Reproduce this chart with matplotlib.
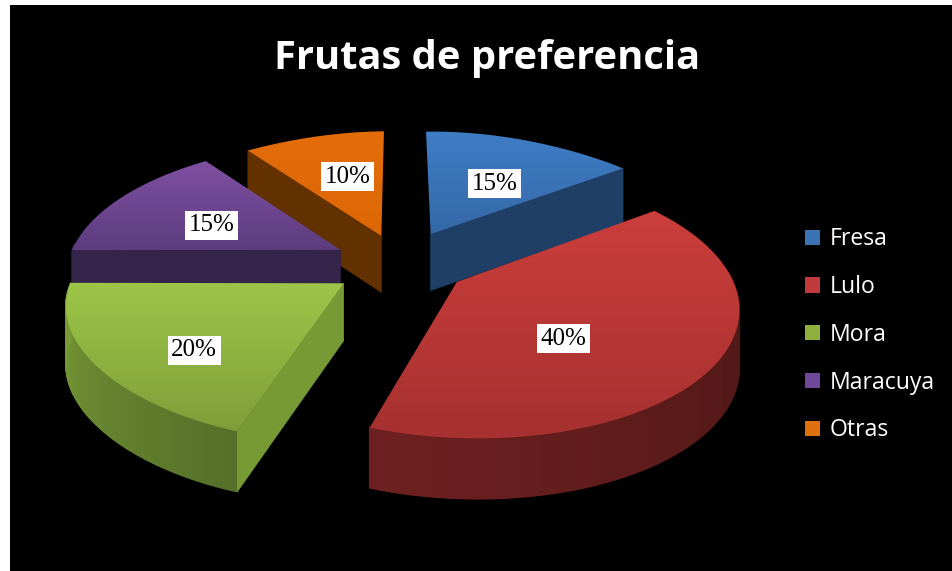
import matplotlib
matplotlib.use('Agg')
import matplotlib.pyplot as plt
import numpy as np
from matplotlib.colors import LinearSegmentedColormap
from matplotlib.patches import Patch, Polygon, Rectangle

title = 'Frutas de preferencia'
labels = ['Fresa', 'Lulo', 'Mora', 'Maracuya', 'Otras']
values = [15, 40, 20, 15, 10]

# per slice styles
explode = [0.27, 0.24, 0.22, 0.22, 0.22]
nudge_x = [7, 10, 5, 5, 10]
nudge_y = [-2, -1, 2, -3, -4]
size_x = [0.98, 0.915, 0.98, 1, 1.05]
size_y = [1.03, 1, 1.03, 1.06, 1.05]
warp = [0.12, 0, 0.06, 0, 0.12]
label_r = [0.56, 0.52, 0.70, 0.55, 0.58]
label_da = [4, 11, -9, -2, 3]
label_dy = [3, 3, -3, 3, 3]
top_light = ['#3f7dc6', '#cb3e3b', '#9dc648', '#7f50a3', '#e46c0a']
top_dark = ['#3569a8', '#a63130', '#7f9e39', '#5d3c7e', '#dc6805']
cut_color = ['#1f3f66', '#6b1f1e', '#779a35', '#35244a', '#633000']
wall_from = ['#1f3f66', '#3f1412', '#55702a', '#35244a', '#633000']
wall_to = ['#1f3f66', '#6e2020', '#7a9c36', '#35244a', '#633000']
legend_color = ['#3a72b4', '#c0393b', '#8fb03f', '#70489a', '#e0700f']

# projection, output pixels
CX, CY = 390, 265
SX, SY = 284, 124
PERSP = 0.16
PERSP_X = 0.03
PERSP_Z = 0.05
DEPTH = 57


def project(x, y, z=0.0):
    w = 1 + PERSP * y - PERSP_X * x
    return CX + SX * x / w, CY - SY * y / w + DEPTH * z / (1 + PERSP_Z * y)


def slice_point(i, ang, r=1.0, z=0.0):
    x0 = explode[i] * np.sin(mids[i])
    y0 = explode[i] * np.cos(mids[i])
    s = np.sin(ang) * (1 - warp[i] * np.cos(ang) ** 2)
    px, py = project(x0 + r * size_x[i] * s, y0 + r * size_y[i] * np.cos(ang), z)
    return px + nudge_x[i], py + nudge_y[i]


edges = np.radians(np.cumsum([0] + values) / sum(values) * 360)
mids = (edges[:-1] + edges[1:]) / 2

fig = plt.figure(figsize=(9.53, 5.71), dpi=100, facecolor='white')
ax = fig.add_axes([0, 0, 1, 1])
ax.add_patch(Rectangle((10, 5), 943, 566, facecolor='black', edgecolor='none', zorder=0))

z = 1
order = np.argsort(-np.cos(mids))
for i in order:
    a0, a1 = edges[i], edges[i + 1]
    angs = np.linspace(a0, a1, 70)
    apex_top = slice_point(i, a0, 0)
    apex_bot = slice_point(i, a0, 0, 1)

    # outer wall, shaded strip by strip, only the part facing the viewer
    ramp = LinearSegmentedColormap.from_list('w', [wall_from[i], wall_to[i]])
    for k in range(len(angs) - 1):
        if np.cos(angs[k]) > 0.05 and np.cos(angs[k + 1]) > 0.05:
            continue
        strip = [slice_point(i, angs[k]), slice_point(i, angs[k + 1]),
                 slice_point(i, angs[k + 1], 1, 1), slice_point(i, angs[k], 1, 1)]
        c = ramp(k / (len(angs) - 2))
        ax.add_patch(Polygon(strip, facecolor=c, edgecolor=c, lw=1.0, zorder=z))
    z += 1

    # cut faces turned to the viewer
    for ang, normal in ((a0, a0 - np.pi / 2), (a1, a1 + np.pi / 2)):
        if np.cos(normal) < -1e-6:
            face = [apex_top, slice_point(i, ang), slice_point(i, ang, 1, 1), apex_bot]
            ax.add_patch(Polygon(face, facecolor=cut_color[i], edgecolor=cut_color[i], lw=0.5, zorder=z))
            z += 1

    # top face with vertical gradient
    pts = np.array([apex_top] + [slice_point(i, a) for a in angs])
    poly = Polygon(pts, facecolor='none', edgecolor='none', zorder=z)
    ax.add_patch(poly)
    grad = LinearSegmentedColormap.from_list('t', [top_light[i], top_dark[i]])
    im = ax.imshow(np.linspace(0, 1, 64).reshape(-1, 1), cmap=grad, aspect='auto', zorder=z, interpolation='bilinear',
                   extent=(pts[:, 0].min() - 1, pts[:, 0].max() + 1, pts[:, 1].max() + 1, pts[:, 1].min() - 1))
    im.set_clip_path(poly)
    z += 1

for i, v in enumerate(values):
    px, py = slice_point(i, mids[i] + np.radians(label_da[i]), label_r[i])
    ax.text(px, py + label_dy[i], f'{v}%', family='Liberation Serif', fontsize=18, color='black', ha='center', va='center',
            bbox=dict(facecolor='white', edgecolor='none', pad=2.5), zorder=z + 1)

ax.text(487, 58, title, family='Open Sans', fontweight='bold', fontsize=28.7, color='white',
        ha='center', va='center', zorder=z + 1)

handles = [Patch(facecolor=c, edgecolor='none', label=l) for c, l in zip(legend_color, labels)]
leg = ax.legend(handles=handles, loc='center left', bbox_to_anchor=(0.823, 0.4135), frameon=False,
                labelcolor='white', handlelength=0.64, handleheight=0.64, handletextpad=0.42, labelspacing=1.03,
                prop={'family': 'Open Sans', 'size': 16.6})

ax.set_xlim(0, 953)
ax.set_ylim(571, 0)
ax.axis('off')
fig.savefig('out.png', dpi=100, facecolor='white')
